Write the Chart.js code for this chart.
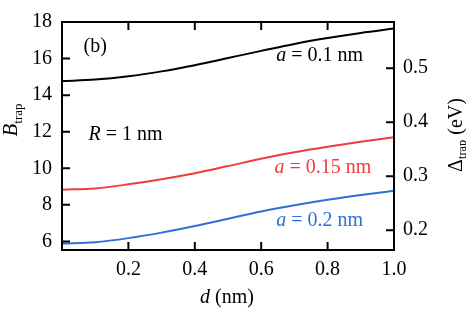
<!DOCTYPE html>
<html>
<head>
<meta charset="utf-8">
<script src="https://cdn.jsdelivr.net/npm/chart.js@4"></script>
<style>
html,body{margin:0;padding:0;background:#fff;}
#wrap{width:466px;height:311px;position:relative;}
</style>
</head>
<body>
<div id="wrap"><canvas id="trapChart"></canvas></div>
<script>
// d (nm) sample positions
const dValues = [0, 0.1, 0.2, 0.3, 0.4, 0.5, 0.6, 0.7, 0.8, 0.9, 1.0];
// B_trap for the three a values
const bA010 = [14.77, 14.85, 15.03, 15.30, 15.64, 16.03, 16.42, 16.80, 17.12, 17.40, 17.64];
const bA015 = [8.83, 8.90, 9.12, 9.40, 9.73, 10.12, 10.52, 10.88, 11.18, 11.45, 11.70];
const bA020 = [5.88, 5.96, 6.18, 6.48, 6.84, 7.24, 7.64, 7.98, 8.28, 8.54, 8.77];

const xTicks = [0.2, 0.4, 0.6, 0.8, 1.0];
const yTicks = [6, 8, 10, 12, 14, 16, 18];
const y2Ticks = [0.2, 0.3, 0.4, 0.5];

const serif = '"Liberation Serif", "DejaVu Serif", serif';
const red = "#f03c3c";
const blue = "#2f70d8";

function pts(ys) {
  return dValues.map((d, i) => ({x: d, y: ys[i]}));
}

// draw a run of text parts, each {t, it, sub}
function drawRun(ctx, parts, x, y, color, size) {
  let cx = x;
  parts.forEach(p => {
    const fs = p.sub ? size * 0.62 : size;
    ctx.font = (p.it ? "italic " : "") + fs + "px " + serif;
    ctx.fillStyle = color;
    ctx.fillText(p.t, cx, y + (p.sub ? size * 0.22 : 0));
    cx += ctx.measureText(p.t).width;
  });
  return cx - x;
}
function runWidth(ctx, parts, size) {
  let w = 0;
  parts.forEach(p => {
    const fs = p.sub ? size * 0.62 : size;
    ctx.font = (p.it ? "italic " : "") + fs + "px " + serif;
    w += ctx.measureText(p.t).width;
  });
  return w;
}

const notes = [
  {x: 0.065, y: 16.35, parts: [{t: "(b)"}], color: "#000"},
  {x: 0.08, y: 11.56, parts: [{t: "R", it: true}, {t: " = 1 nm"}], color: "#000"},
  {x: 0.645, y: 15.84, parts: [{t: "a", it: true}, {t: " = 0.1 nm"}], color: "#000"},
  {x: 0.64, y: 9.76, parts: [{t: "a", it: true}, {t: " = 0.15 nm"}], color: red},
  {x: 0.645, y: 6.83, parts: [{t: "a", it: true}, {t: " = 0.2 nm"}], color: blue}
];

const framePlugin = {
  id: "frame",
  afterDatasetsDraw(chart) {
    const ctx = chart.ctx;
    const a = chart.chartArea;
    const sx = chart.scales.x, sy = chart.scales.y, sy2 = chart.scales.y2;
    const tl = 8;
    ctx.save();
    ctx.strokeStyle = "#000";
    ctx.lineWidth = 2;
    ctx.beginPath();
    xTicks.forEach(v => {
      const px = sx.getPixelForValue(v);
      ctx.moveTo(px, a.bottom); ctx.lineTo(px, a.bottom - tl);
      ctx.moveTo(px, a.top); ctx.lineTo(px, a.top + tl);
    });
    yTicks.forEach(v => {
      const py = sy.getPixelForValue(v);
      ctx.moveTo(a.left, py); ctx.lineTo(a.left + tl, py);
    });
    y2Ticks.forEach(v => {
      const py = sy2.getPixelForValue(v);
      ctx.moveTo(a.right, py); ctx.lineTo(a.right - tl, py);
    });
    ctx.stroke();
    ctx.strokeRect(a.left, a.top, a.right - a.left, a.bottom - a.top);

    ctx.textBaseline = "alphabetic";
    ctx.textAlign = "left";
    notes.forEach(n => {
      drawRun(ctx, n.parts, sx.getPixelForValue(n.x), sy.getPixelForValue(n.y), n.color, 20);
    });

    // axis titles
    const xt = [{t: "d", it: true}, {t: " (nm)"}];
    const w = runWidth(ctx, xt, 20);
    drawRun(ctx, xt, (a.left + a.right) / 2 - w / 2 - 1, 303, "#000", 20);

    const lt = [{t: "B", it: true}, {t: "trap", sub: true}];
    const lw = runWidth(ctx, lt, 21);
    ctx.save();
    ctx.translate(17, 120);
    ctx.rotate(-Math.PI / 2);
    drawRun(ctx, lt, -lw / 2, 0, "#000", 21);
    ctx.restore();

    const rt = [{t: "\u0394"}, {t: "trap", sub: true}, {t: " (eV)"}];
    const rw = runWidth(ctx, rt, 20);
    ctx.save();
    ctx.translate(462, 135);
    ctx.rotate(-Math.PI / 2);
    drawRun(ctx, rt, -rw / 2, 0, "#000", 20);
    ctx.restore();
    ctx.restore();
  }
};

const tickFont = {family: serif, size: 20};

new Chart(
document.getElementById("trapChart"),
{
type: "line",
data: {
datasets: [
{label: "a = 0.1 nm", data: pts(bA010), borderColor: "#000"},
{label: "a = 0.15 nm", data: pts(bA015), borderColor: red},
{label: "a = 0.2 nm", data: pts(bA020), borderColor: blue}
]
},
options: {
responsive: true,
maintainAspectRatio: false,
animation: false,
layout: {padding: {top: 8, left: 0, right: 0, bottom: 0}},
elements: {
point: {radius: 0},
line: {borderWidth: 2, cubicInterpolationMode: "monotone", fill: false}
},
plugins: {legend: {display: false}, tooltip: {enabled: false}},
scales: {
x: {
type: "linear", min: 0, max: 1,
grid: {display: false, drawTicks: false}, border: {display: false},
afterBuildTicks: s => { s.ticks = xTicks.map(v => ({value: v})); },
afterFit: s => { s.height = 61; },
ticks: {font: tickFont, color: "#000", padding: 8, maxRotation: 0,
  callback: v => v.toFixed(1)}
},
y: {
position: "left", min: 5.53, max: 18,
grid: {display: false, drawTicks: false}, border: {display: false},
afterBuildTicks: s => { s.ticks = yTicks.map(v => ({value: v})); },
afterFit: s => { s.width = 62; },
ticks: {font: tickFont, color: "#000", padding: 10}
},
y2: {
position: "right", display: true, min: 0.1634, max: 0.5855,
grid: {display: false, drawTicks: false}, border: {display: false},
afterBuildTicks: s => { s.ticks = y2Ticks.map(v => ({value: v})); },
afterFit: s => { s.width = 72; },
ticks: {font: tickFont, color: "#000", padding: 9, callback: v => v.toFixed(1)}
}
}
},
plugins: [framePlugin]
});
</script>
</body>
</html>
